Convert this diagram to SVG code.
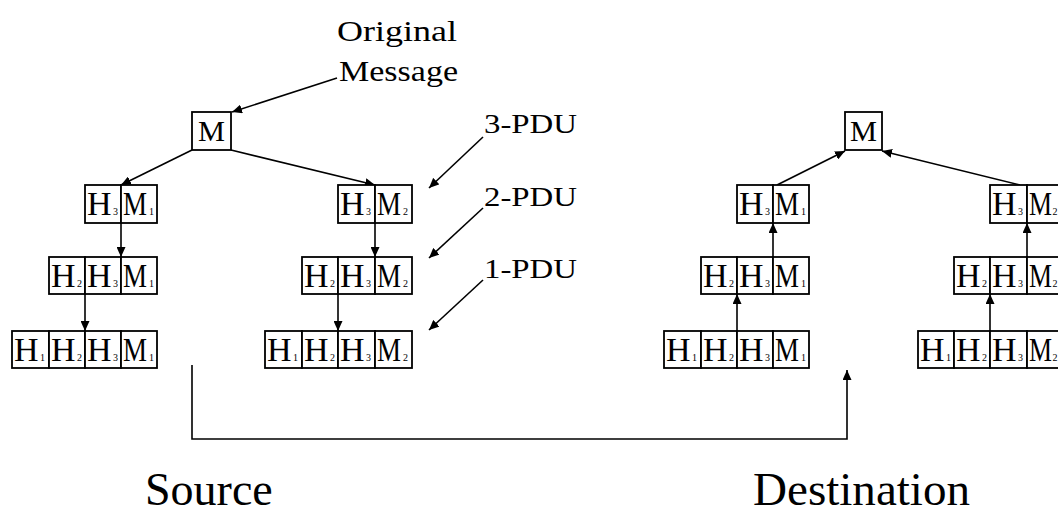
<svg xmlns="http://www.w3.org/2000/svg" width="1058" height="513" viewBox="0 0 1058 513">
<style>
.bx{fill:#fff;stroke:#000;stroke-width:1.8}
.t{font-family:'Liberation Serif','Times New Roman',serif;fill:#000}
.L{font-size:34px}
.s{font-size:10px}
.lbl{font-size:27px}
.big{font-size:46px}
.ln{fill:none;stroke:#000;stroke-width:1.6}
</style>
<defs>
<marker id="ah" markerUnits="userSpaceOnUse" markerWidth="11" markerHeight="9" refX="10" refY="4.5" orient="auto">
<path d="M0,0 L10,4.5 L0,9 z" fill="#000"/>
</marker>
</defs>
<rect width="1058" height="513" fill="#fff"/>

<g id="connectors">
<line class="ln" x1="337" y1="78" x2="232" y2="112" marker-end="url(#ah)"/>
<line class="ln" x1="192" y1="150" x2="121" y2="185" marker-end="url(#ah)"/>
<line class="ln" x1="231" y1="150" x2="375" y2="185" marker-end="url(#ah)"/>
<line class="ln" x1="121" y1="223" x2="121" y2="257" marker-end="url(#ah)"/>
<line class="ln" x1="85" y1="294" x2="85" y2="331" marker-end="url(#ah)"/>
<line class="ln" x1="375" y1="223" x2="375" y2="257" marker-end="url(#ah)"/>
<line class="ln" x1="338" y1="294" x2="338" y2="331" marker-end="url(#ah)"/>
<line class="ln" x1="483" y1="137" x2="429" y2="188" marker-end="url(#ah)"/>
<line class="ln" x1="483" y1="208" x2="429" y2="258" marker-end="url(#ah)"/>
<line class="ln" x1="483" y1="280" x2="429" y2="330" marker-end="url(#ah)"/>
<polyline class="ln" points="192,365 192,439 847,439 847,370" marker-end="url(#ah)"/>
<line class="ln" x1="773" y1="257" x2="773" y2="223" marker-end="url(#ah)"/>
<line class="ln" x1="737" y1="331" x2="737" y2="294" marker-end="url(#ah)"/>
<line class="ln" x1="1027" y1="257" x2="1027" y2="223" marker-end="url(#ah)"/>
<line class="ln" x1="990" y1="331" x2="990" y2="294" marker-end="url(#ah)"/>
<line class="ln" x1="777" y1="185" x2="845" y2="151" marker-end="url(#ah)"/>
<line class="ln" x1="1020" y1="185" x2="882" y2="151" marker-end="url(#ah)"/>
</g>

<g id="label-original" class="t"><text x="337" y="41" font-size="30" textLength="120" lengthAdjust="spacingAndGlyphs">Original</text><text x="339" y="81" font-size="30" textLength="119" lengthAdjust="spacingAndGlyphs">Message</text></g>
<g id="label-3pdu" class="t lbl"><text x="484" y="133" textLength="93" lengthAdjust="spacingAndGlyphs">3-PDU</text></g>
<g id="label-2pdu" class="t lbl"><text x="484" y="206" textLength="93" lengthAdjust="spacingAndGlyphs">2-PDU</text></g>
<g id="label-1pdu" class="t lbl"><text x="484" y="278" textLength="93" lengthAdjust="spacingAndGlyphs">1-PDU</text></g>
<g id="label-source" class="t big"><text x="145" y="505">Source</text></g>
<g id="label-destination" class="t big"><text x="753" y="505" textLength="217" lengthAdjust="spacingAndGlyphs">Destination</text></g>

<!-- Source M -->
<g id="src-m"><rect class="bx" x="192" y="112" width="39" height="38"/><text class="t" x="198" y="141" font-size="30" textLength="27" lengthAdjust="spacingAndGlyphs">M</text></g>

<!-- Source left tree -->
<g id="src-a1">
<rect class="bx" x="85" y="185" width="36" height="38"/><rect class="bx" x="121" y="185" width="36" height="38"/>
<text class="t L" x="87" y="215">H<tspan class="s" x="113">3</tspan></text>
<text class="t L" x="123" y="215"><tspan textLength="24" lengthAdjust="spacingAndGlyphs">M</tspan><tspan class="s" x="149">1</tspan></text>
</g>
<g id="src-a2">
<rect class="bx" x="49" y="257" width="36" height="37"/><rect class="bx" x="85" y="257" width="36" height="37"/><rect class="bx" x="121" y="257" width="36" height="37"/>
<text class="t L" x="51" y="287">H<tspan class="s" x="77">2</tspan></text>
<text class="t L" x="87" y="287">H<tspan class="s" x="113">3</tspan></text>
<text class="t L" x="123" y="287"><tspan textLength="24" lengthAdjust="spacingAndGlyphs">M</tspan><tspan class="s" x="149">1</tspan></text>
</g>
<g id="src-a3">
<rect class="bx" x="12" y="331" width="37" height="37"/><rect class="bx" x="49" y="331" width="36" height="37"/><rect class="bx" x="85" y="331" width="36" height="37"/><rect class="bx" x="121" y="331" width="36" height="37"/>
<text class="t L" x="14" y="361">H<tspan class="s" x="40">1</tspan></text>
<text class="t L" x="51" y="361">H<tspan class="s" x="77">2</tspan></text>
<text class="t L" x="87" y="361">H<tspan class="s" x="113">3</tspan></text>
<text class="t L" x="123" y="361"><tspan textLength="24" lengthAdjust="spacingAndGlyphs">M</tspan><tspan class="s" x="149">1</tspan></text>
</g>

<!-- Source right tree -->
<g id="src-b1">
<rect class="bx" x="338" y="185" width="37" height="38"/><rect class="bx" x="375" y="185" width="37" height="38"/>
<text class="t L" x="340" y="215">H<tspan class="s" x="366">3</tspan></text>
<text class="t L" x="377" y="215"><tspan textLength="24" lengthAdjust="spacingAndGlyphs">M</tspan><tspan class="s" x="403">2</tspan></text>
</g>
<g id="src-b2">
<rect class="bx" x="302" y="257" width="36" height="37"/><rect class="bx" x="338" y="257" width="37" height="37"/><rect class="bx" x="375" y="257" width="37" height="37"/>
<text class="t L" x="304" y="287">H<tspan class="s" x="330">2</tspan></text>
<text class="t L" x="340" y="287">H<tspan class="s" x="366">3</tspan></text>
<text class="t L" x="377" y="287"><tspan textLength="24" lengthAdjust="spacingAndGlyphs">M</tspan><tspan class="s" x="403">2</tspan></text>
</g>
<g id="src-b3">
<rect class="bx" x="265" y="331" width="37" height="37"/><rect class="bx" x="302" y="331" width="36" height="37"/><rect class="bx" x="338" y="331" width="37" height="37"/><rect class="bx" x="375" y="331" width="37" height="37"/>
<text class="t L" x="267" y="361">H<tspan class="s" x="293">1</tspan></text>
<text class="t L" x="304" y="361">H<tspan class="s" x="330">2</tspan></text>
<text class="t L" x="340" y="361">H<tspan class="s" x="366">3</tspan></text>
<text class="t L" x="377" y="361"><tspan textLength="24" lengthAdjust="spacingAndGlyphs">M</tspan><tspan class="s" x="403">2</tspan></text>
</g>

<!-- Destination M -->
<g id="dst-m"><rect class="bx" x="845" y="112" width="37" height="38"/><text class="t" x="850" y="141" font-size="30" textLength="27" lengthAdjust="spacingAndGlyphs">M</text></g>

<!-- Destination left tree -->
<g id="dst-c1">
<rect class="bx" x="737" y="185" width="36" height="38"/><rect class="bx" x="773" y="185" width="36" height="38"/>
<text class="t L" x="739" y="215">H<tspan class="s" x="765">3</tspan></text>
<text class="t L" x="775" y="215"><tspan textLength="24" lengthAdjust="spacingAndGlyphs">M</tspan><tspan class="s" x="801">1</tspan></text>
</g>
<g id="dst-c2">
<rect class="bx" x="701" y="257" width="36" height="37"/><rect class="bx" x="737" y="257" width="36" height="37"/><rect class="bx" x="773" y="257" width="36" height="37"/>
<text class="t L" x="703" y="287">H<tspan class="s" x="729">2</tspan></text>
<text class="t L" x="739" y="287">H<tspan class="s" x="765">3</tspan></text>
<text class="t L" x="775" y="287"><tspan textLength="24" lengthAdjust="spacingAndGlyphs">M</tspan><tspan class="s" x="801">1</tspan></text>
</g>
<g id="dst-c3">
<rect class="bx" x="664" y="331" width="37" height="37"/><rect class="bx" x="701" y="331" width="36" height="37"/><rect class="bx" x="737" y="331" width="36" height="37"/><rect class="bx" x="773" y="331" width="36" height="37"/>
<text class="t L" x="666" y="361">H<tspan class="s" x="692">1</tspan></text>
<text class="t L" x="703" y="361">H<tspan class="s" x="729">2</tspan></text>
<text class="t L" x="739" y="361">H<tspan class="s" x="765">3</tspan></text>
<text class="t L" x="775" y="361"><tspan textLength="24" lengthAdjust="spacingAndGlyphs">M</tspan><tspan class="s" x="801">1</tspan></text>
</g>

<!-- Destination right tree -->
<g id="dst-d1">
<rect class="bx" x="990" y="185" width="37" height="38"/><rect class="bx" x="1027" y="185" width="37" height="38"/>
<text class="t L" x="992" y="215">H<tspan class="s" x="1018">3</tspan></text>
<text class="t L" x="1029" y="215"><tspan textLength="23" lengthAdjust="spacingAndGlyphs">M</tspan><tspan class="s" x="1052.5">2</tspan></text>
</g>
<g id="dst-d2">
<rect class="bx" x="954" y="257" width="36" height="37"/><rect class="bx" x="990" y="257" width="37" height="37"/><rect class="bx" x="1027" y="257" width="37" height="37"/>
<text class="t L" x="956" y="287">H<tspan class="s" x="982">2</tspan></text>
<text class="t L" x="992" y="287">H<tspan class="s" x="1018">3</tspan></text>
<text class="t L" x="1029" y="287"><tspan textLength="23" lengthAdjust="spacingAndGlyphs">M</tspan><tspan class="s" x="1052.5">2</tspan></text>
</g>
<g id="dst-d3">
<rect class="bx" x="918" y="331" width="36" height="37"/><rect class="bx" x="954" y="331" width="36" height="37"/><rect class="bx" x="990" y="331" width="37" height="37"/><rect class="bx" x="1027" y="331" width="37" height="37"/>
<text class="t L" x="920" y="361">H<tspan class="s" x="946">1</tspan></text>
<text class="t L" x="956" y="361">H<tspan class="s" x="982">2</tspan></text>
<text class="t L" x="992" y="361">H<tspan class="s" x="1018">3</tspan></text>
<text class="t L" x="1029" y="361"><tspan textLength="23" lengthAdjust="spacingAndGlyphs">M</tspan><tspan class="s" x="1052.5">2</tspan></text>
</g>
</svg>
